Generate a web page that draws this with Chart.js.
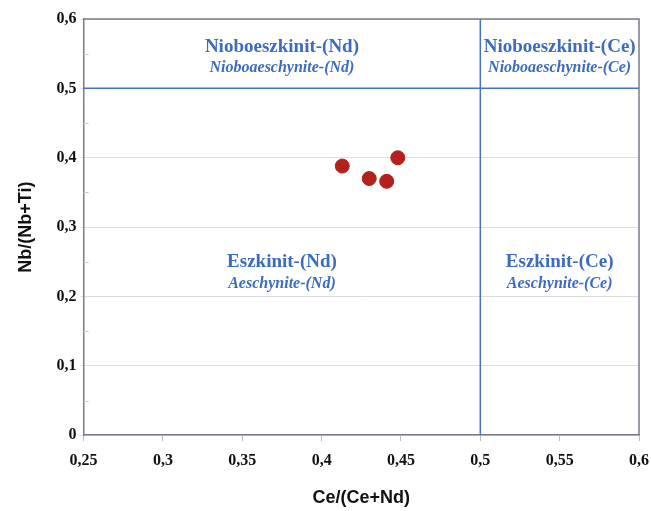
<!DOCTYPE html>
<html><head><meta charset="utf-8">
<script src="https://cdn.jsdelivr.net/npm/chart.js@4/dist/chart.umd.min.js"></script>
<style>html,body{margin:0;padding:0;background:#fff}#wrap{width:651px;height:511px}</style>
</head><body><div id="wrap"><canvas id="c" width="651" height="511"></canvas></div>
<script>
const ceRatio = [0.413, 0.430, 0.441, 0.448];
const nbRatio = [0.388, 0.370, 0.366, 0.400];
const xTicks = [0.25, 0.3, 0.35, 0.4, 0.45, 0.5, 0.55, 0.6];
const yTicks = [0, 0.1, 0.2, 0.3, 0.4, 0.5, 0.6];
const yMinorTicks = [0.05, 0.15, 0.25, 0.35, 0.45, 0.55];
const fieldNames = ['Nioboeszkinit-(Nd)', 'Nioboeszkinit-(Ce)', 'Eszkinit-(Nd)', 'Eszkinit-(Ce)'];
const fieldNamesEn = ['Nioboaeschynite-(Nd)', 'Nioboaeschynite-(Ce)', 'Aeschynite-(Nd)', 'Aeschynite-(Ce)'];
const fieldX = [0.375, 0.55, 0.375, 0.55];
const fieldY = [0.56, 0.56, 0.249, 0.249];
const boundaryX = 0.5, boundaryY = 0.5;

const blue = '#4472c4';
const textBlue = '#3b6cc0';
const axisCol = '#7b7b8c';
const fmt = v => { const s = String(Math.round(v*100)/100); return s.replace('.', ','); };

const labelsPlugin = {
  id: 'fields',
  afterDatasetsDraw(chart) {
    const {ctx, scales:{x, y}, chartArea:a} = chart;
    ctx.save();
    ctx.strokeStyle = '#c8c8c8'; ctx.lineWidth = 1;
    for (const v of yMinorTicks) {
      const py = Math.round(y.getPixelForValue(v)) + 0.5;
      ctx.beginPath(); ctx.moveTo(a.left, py); ctx.lineTo(a.left + 5, py); ctx.stroke();
    }
    ctx.strokeStyle = axisCol; ctx.lineWidth = 1.5;
    ctx.beginPath(); ctx.moveTo(a.left, a.top); ctx.lineTo(a.right, a.top); ctx.lineTo(a.right, a.bottom); ctx.stroke();
    ctx.textAlign = 'center'; ctx.textBaseline = 'middle'; ctx.fillStyle = textBlue;
    for (let i = 0; i < fieldNames.length; i++) {
      const px = x.getPixelForValue(fieldX[i]);
      const py = y.getPixelForValue(fieldY[i]);
      ctx.font = 'bold 19px "Liberation Serif"';
      ctx.fillText(fieldNames[i], px, py);
      ctx.font = 'italic bold 16px "Liberation Serif"';
      ctx.fillText(fieldNamesEn[i], px, py + 21);
    }
    ctx.restore();
  }
};

new Chart(document.getElementById('c'), {
  type: 'scatter',
  data: {
    datasets: [
      { data: ceRatio.map((v,i)=>({x:v, y:nbRatio[i]})), backgroundColor: '#b3211c', borderColor: '#b3211c', pointRadius: 7, pointHoverRadius: 7 },
      { type: 'line', data: [{x: xTicks[0], y: boundaryY}, {x: xTicks[xTicks.length-1], y: boundaryY}], borderColor: blue, borderWidth: 1.5, pointRadius: 0, fill: false },
      { type: 'line', data: [{x: boundaryX, y: yTicks[0]}, {x: boundaryX, y: yTicks[yTicks.length-1]}], borderColor: blue, borderWidth: 1.5, pointRadius: 0, fill: false }
    ]
  },
  options: {
    responsive: false, animation: false,
    layout: { padding: { top: 19, right: 12, left: 15, bottom: 2 } },
    plugins: { legend: { display: false }, tooltip: { enabled: false } },
    scales: {
      x: {
        type: 'linear', min: 0.25, max: 0.6,
        afterBuildTicks: s => { s.ticks = xTicks.map(v => ({value: v})); },
        afterFit: s => { s.paddingRight = 0; },
        ticks: { callback: fmt, color: '#111', font: { family: '"Liberation Serif"', weight: 'bold', size: 16 }, padding: 10, maxRotation: 0 },
        grid: { drawOnChartArea: false, tickLength: 6, tickColor: '#bbb' },
        border: { color: axisCol, width: 1.5 },
        title: { display: true, text: 'Ce/(Ce+Nd)', color: '#111', font: { family: '"Liberation Sans"', weight: 'bold', size: 18 }, padding: { top: 7, bottom: 0 } }
      },
      y: {
        type: 'linear', min: 0, max: 0.6,
        afterBuildTicks: s => { s.ticks = yTicks.map(v => ({value: v})); },
        ticks: { callback: fmt, color: '#111', font: { family: '"Liberation Serif"', weight: 'bold', size: 16 }, padding: 4 },
        grid: { color: '#dcdcdc', tickLength: 3, tickColor: '#dcdcdc', lineWidth: 1 },
        border: { color: axisCol, width: 1.5 },
        title: { display: true, text: 'Nb/(Nb+Ti)', color: '#111', font: { family: '"Liberation Sans"', weight: 'bold', size: 18 }, padding: { top: 0, bottom: 16 } }
      }
    }
  },
  plugins: [labelsPlugin]
});
</script></body></html>
